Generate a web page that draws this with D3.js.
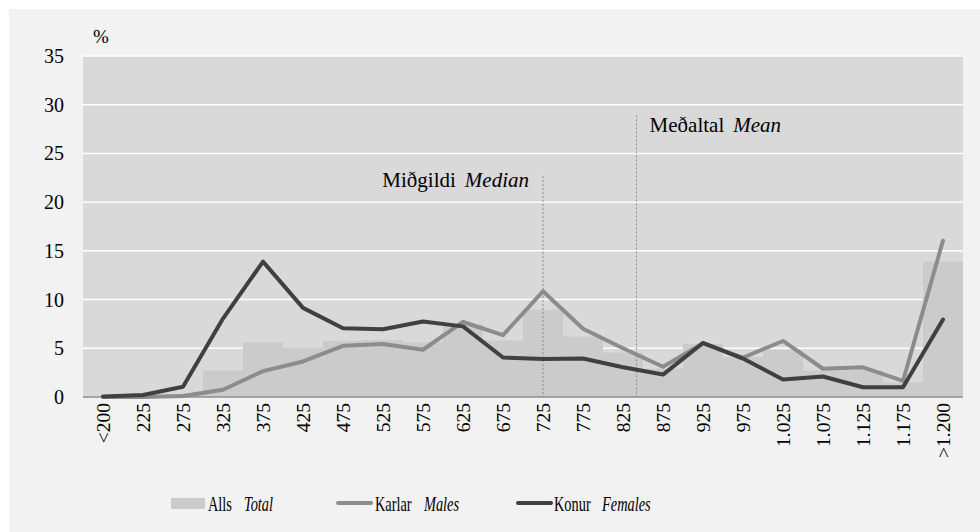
<!DOCTYPE html>
<html><head><meta charset="utf-8">
<script src="https://cdn.jsdelivr.net/npm/d3@7/dist/d3.min.js"></script>
<style>
html,body{margin:0;padding:0;background:#ffffff;}
svg text{font-family:"Liberation Serif","Times New Roman",serif;fill:#000;}
</style></head>
<body>
<svg id="chart" width="980" height="532"></svg>
<script>
const categories = ["<200","225","275","325","375","425","475","525","575","625","675","725","775","825","875","925","975","1.025","1.075","1.125","1.175",">1.200"];
const total   = [0, 0.05, 0.3, 2.7, 5.6, 5.1, 5.75, 5.85, 5.6, 7.5, 5.8, 8.95, 6.2, 4.55, 2.9, 5.45, 4.1, 4.8, 2.7, 2.75, 1.5, 13.9];
const males   = [0, 0, 0.1, 0.75, 2.65, 3.65, 5.25, 5.45, 4.85, 7.7, 6.35, 10.85, 7.0, 5.0, 3.1, 5.5, 4.05, 5.75, 2.9, 3.05, 1.65, 16.05];
const females = [0.05, 0.2, 1.05, 8.05, 13.9, 9.15, 7.05, 6.95, 7.75, 7.25, 4.05, 3.9, 3.95, 3.05, 2.3, 5.55, 3.95, 1.8, 2.1, 1.0, 1.0, 7.95];
const yTicks = [0, 5, 10, 15, 20, 25, 30, 35];
const medianValue = 725;
const meanValue = 842;
const seriesNames = [
  {is:"Alls", en:"Total"},
  {is:"Karlar", en:"Males"},
  {is:"Konur", en:"Females"}
];

const svg = d3.select("#chart");
const W = 980, H = 532;
const m = {left:83, right:17, top:56, bottom:135};
const pw = W - m.left - m.right, ph = H - m.top - m.bottom;

svg.append("rect").attr("x",9).attr("y",9).attr("width",W-9).attr("height",H-9).attr("fill","#f2f2f2");

const g = svg.append("g").attr("transform",`translate(${m.left},${m.top})`);
const x = d3.scaleBand().domain(categories).range([0,pw]).padding(0);
const y = d3.scaleLinear().domain([0,35]).range([ph,0]);

// plot background
g.append("rect").attr("width",pw).attr("height",ph).attr("fill","#d9d9d9");
// gridlines
g.selectAll("line.grid").data(yTicks.filter(d=>d>0)).join("line")
  .attr("x1",0).attr("x2",pw).attr("y1",d=>y(d)).attr("y2",d=>y(d))
  .attr("stroke","#ffffff").attr("stroke-width",1.5);

// bars
g.selectAll("rect.bar").data(total).join("rect")
  .attr("x",(d,i)=>x(categories[i])).attr("width",x.bandwidth())
  .attr("y",d=>y(d)).attr("height",d=>ph-y(d)).attr("fill","#cbcbcb");

// baseline
g.append("line").attr("x1",0).attr("x2",pw).attr("y1",ph).attr("y2",ph)
  .attr("stroke","#8f8f8f").attr("stroke-width",1.5);

// median/mean positions: value scale through category centers
const cx = c => x(c) + x.bandwidth()/2;
const vx = d3.scaleLinear().domain([225,1175]).range([cx("225"), cx("1.175")]);

const mx = vx(medianValue), mnx = vx(meanValue);
g.append("line").attr("x1",mx).attr("x2",mx).attr("y1",y(22.7)).attr("y2",ph)
  .attr("stroke","#8a8a8a").attr("stroke-width",1).attr("stroke-dasharray","2,2");
g.append("line").attr("x1",mnx).attr("x2",mnx).attr("y1",y(28.9)).attr("y2",ph)
  .attr("stroke","#8a8a8a").attr("stroke-width",1).attr("stroke-dasharray","2,2");

const t1 = g.append("text").attr("x",mx-14).attr("y",y(21.6)).attr("text-anchor","end").attr("font-size",21);
t1.append("tspan").text("Miðgildi");
t1.append("tspan").attr("dx",9).attr("font-style","italic").text("Median");
const t2 = g.append("text").attr("x",mnx+13).attr("y",y(27.2)).attr("font-size",21);
t2.append("tspan").text("Meðaltal");
t2.append("tspan").attr("dx",9).attr("font-style","italic").text("Mean");

// lines
const line = d3.line().x((d,i)=>cx(categories[i])).y(d=>y(d));
g.append("path").datum(males).attr("d",line).attr("fill","none")
  .attr("stroke","#8c8c8c").attr("stroke-width",4).attr("stroke-linejoin","round").attr("stroke-linecap","round");
g.append("path").datum(females).attr("d",line).attr("fill","none")
  .attr("stroke","#404040").attr("stroke-width",4).attr("stroke-linejoin","round").attr("stroke-linecap","round");

// y axis labels
g.selectAll("text.ytick").data(yTicks).join("text")
  .attr("x",-19).attr("y",d=>y(d)).attr("dy","0.35em").attr("text-anchor","end")
  .attr("font-size",20).text(d=>d);
g.append("text").attr("x",10).attr("y",-13).attr("font-size",19).text("%");

// x axis labels
g.selectAll("text.xtick").data(categories).join("text")
  .attr("transform",d=>`translate(${cx(d)},${ph+6}) rotate(-90)`)
  .attr("text-anchor","end").attr("dy","0.35em").attr("font-size",19.5).text(d=>d);

// legend
const leg = svg.append("g");
const ly = 503;
leg.append("rect").attr("x",171).attr("y",ly-5).attr("width",34).attr("height",11).attr("fill","#cbcbcb");
leg.append("line").attr("x1",338).attr("x2",371).attr("y1",ly).attr("y2",ly)
  .attr("stroke","#8c8c8c").attr("stroke-width",4).attr("stroke-linecap","round");
leg.append("line").attr("x1",518).attr("x2",551).attr("y1",ly).attr("y2",ly)
  .attr("stroke","#404040").attr("stroke-width",4).attr("stroke-linecap","round");
const legPos = [[208,244],[375,424],[554,602]];
seriesNames.forEach((s,i)=>{
  leg.append("text").attr("transform",`translate(${legPos[i][0]},${ly+8}) scale(0.7,1)`)
    .attr("font-size",20.5).text(s.is);
  leg.append("text").attr("transform",`translate(${legPos[i][1]},${ly+8}) scale(0.7,1)`)
    .attr("font-size",20.5).attr("font-style","italic").text(s.en);
});
</script>
</body></html>
